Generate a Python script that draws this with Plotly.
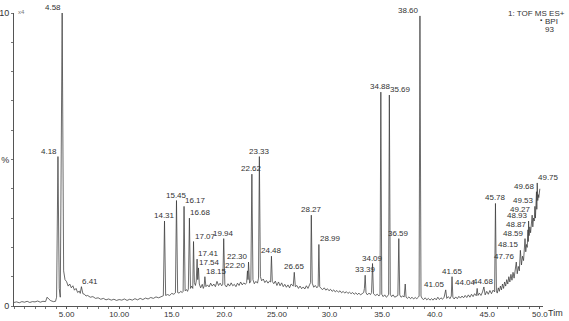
import plotly.graph_objects as go

# Chromatogram trace (retention time in min, relative intensity in %)
trace_time = [
    0.0, 0.25, 0.5, 0.75, 1.0, 1.25, 1.5, 1.75, 2.0, 2.25, 2.5, 2.75, 3.0, 3.15, 3.3, 3.5, 3.75, 3.95,
    4.05, 4.18, 4.3, 4.4, 4.58, 4.72, 4.85,
    5.0, 5.15, 5.3, 5.45, 5.6, 5.75, 5.9, 6.05, 6.2, 6.3, 6.41, 6.55, 6.7, 6.85, 7.0, 7.25, 7.5, 7.75,
    8.0, 8.25, 8.5, 8.75, 9.0, 9.25, 9.5, 9.75, 10.0, 10.25, 10.5, 10.75, 11.0, 11.25, 11.5, 11.75,
    12.0, 12.25, 12.5, 12.75, 13.0, 13.25, 13.5, 13.75, 14.0, 14.2,
    14.31, 14.42, 14.6, 14.8, 15.0, 15.2, 15.35, 15.45, 15.56, 15.7, 15.85, 16.0, 16.08, 16.17, 16.27,
    16.4, 16.5, 16.58, 16.68, 16.78, 16.9, 17.0, 17.07, 17.15, 17.25, 17.33, 17.41, 17.47, 17.54, 17.62,
    17.75, 17.9, 18.0, 18.08, 18.15, 18.25, 18.4, 18.55, 18.7, 18.85, 19.0, 19.15, 19.3, 19.45, 19.6,
    19.75, 19.85, 19.94, 20.05, 20.2, 20.35, 20.5, 20.65, 20.8, 20.95, 21.1, 21.25, 21.4, 21.55, 21.7,
    21.85, 22.0, 22.12, 22.2, 22.25, 22.3, 22.4, 22.52, 22.62, 22.72, 22.85, 23.0, 23.15, 23.25, 23.33,
    23.43, 23.55, 23.7, 23.85, 24.0, 24.15, 24.3, 24.4, 24.48, 24.56, 24.7, 24.85, 25.0, 25.15, 25.3,
    25.45, 25.6, 25.75, 25.9, 26.05, 26.2, 26.35, 26.55, 26.65, 26.75, 26.9, 27.05, 27.2, 27.35, 27.5,
    27.65, 27.8, 27.95, 28.1, 28.2, 28.27, 28.36, 28.5, 28.65, 28.8, 28.92, 28.99, 29.07, 29.2, 29.35,
    29.5, 29.65, 29.8, 29.95, 30.1, 30.25, 30.4, 30.55, 30.7, 30.85, 31.0, 31.15, 31.3, 31.45, 31.6,
    31.75, 31.9, 32.05, 32.2, 32.35, 32.5, 32.65, 32.8, 32.95, 33.1, 33.25, 33.32, 33.39, 33.47, 33.6,
    33.75, 33.9, 34.0, 34.09, 34.18, 34.35, 34.55, 34.7, 34.8, 34.88, 34.97, 35.1, 35.25, 35.4, 35.55,
    35.62, 35.69, 35.78, 35.9, 36.05, 36.2, 36.35, 36.5, 36.59, 36.68, 36.8, 36.95, 37.1, 37.2, 37.28,
    37.4, 37.55, 37.7, 37.85, 38.0, 38.15, 38.3, 38.45, 38.52, 38.6, 38.7, 38.8, 38.95, 39.1, 39.25,
    39.4, 39.55, 39.7, 39.85, 40.0, 40.15, 40.3, 40.45, 40.6, 40.75, 40.9, 41.05, 41.15, 41.3, 41.45,
    41.58, 41.65, 41.73, 41.85, 42.0, 42.15, 42.3, 42.45, 42.6, 42.75, 42.9, 43.05, 43.2, 43.35, 43.5,
    43.65, 43.8, 43.95, 44.04, 44.12, 44.25, 44.4, 44.55, 44.68, 44.8, 44.95, 45.1, 45.25, 45.4, 45.55,
    45.7, 45.78, 45.87, 45.95, 46.05, 46.15, 46.25, 46.35, 46.45, 46.55, 46.65, 46.75, 46.85, 46.95,
    47.05, 47.15, 47.25, 47.35, 47.45, 47.55, 47.65, 47.76, 47.85, 47.95, 48.05, 48.15, 48.25, 48.35,
    48.45, 48.52, 48.59, 48.66, 48.73, 48.8, 48.87, 48.9, 48.93, 48.98, 49.05, 49.12, 49.2, 49.27,
    49.33, 49.4, 49.47, 49.53, 49.58, 49.63, 49.68, 49.71, 49.75, 49.8, 49.85, 49.9, 49.95, 50.0,
]
trace_intensity = [
    1.2, 1.4, 1.1, 1.5, 1.3, 1.6, 1.2, 1.5, 1.4, 1.7, 1.3, 1.6, 1.5, 3.0, 2.4, 1.8, 1.5, 1.6,
    3.0, 51, 6.0, 3.0, 100, 12, 9.0,
    8.3, 6.8, 7.5, 6.2, 6.9, 5.4, 6.0, 4.6, 5.1, 4.3, 6.6, 4.2, 4.0, 3.4, 3.6, 3.0, 3.2, 2.6,
    2.8, 2.3, 2.6, 2.1, 2.4, 2.0, 2.3, 1.9, 2.2, 2.0, 2.4, 1.9, 2.3, 2.0, 2.5, 2.1,
    2.6, 2.2, 2.7, 2.4, 2.9, 2.6, 3.1, 2.8, 3.3, 3.5,
    29, 3.6, 3.9, 3.6, 4.3, 4.0, 4.5, 36, 4.6, 4.4, 5.0, 4.6, 5.0, 34, 5.2,
    5.6, 5.0, 5.8, 30, 6.0, 6.8, 6.0, 22, 8.0, 7.0, 8.5, 16, 9.0, 13, 7.5,
    6.2, 7.4, 6.0, 6.8, 10, 6.6, 7.2, 6.5, 7.8, 6.8, 7.5, 6.6, 8.4, 7.0, 7.8,
    6.9, 7.4, 23, 7.2, 6.5, 7.6, 6.8, 7.9, 6.9, 7.4, 6.6, 7.8, 7.0, 8.2, 7.2,
    7.9, 7.4, 8.0, 12, 9.0, 15, 7.8, 8.5, 45, 9.0, 7.6, 8.4, 7.8, 9.5, 51,
    10, 8.6, 9.2, 8.0, 8.7, 7.8, 8.5, 8.2, 17, 8.4, 7.6, 8.5, 7.0, 8.2, 6.9,
    7.9, 6.6, 7.4, 6.4, 7.2, 6.2, 7.5, 6.8, 11.5, 6.6, 7.0, 6.0, 6.8, 5.9, 6.5,
    5.8, 6.9, 6.0, 7.2, 8.0, 31, 7.8, 6.4, 7.0, 6.2, 6.8, 21, 6.6, 6.0, 5.6,
    6.2, 5.4, 5.9, 5.2, 5.7, 5.0, 5.5, 4.8, 5.3, 4.7, 5.2, 4.5, 5.0, 4.4, 4.9,
    4.3, 4.7, 4.2, 4.6, 4.0, 4.5, 3.9, 4.4, 3.8, 4.2, 4.6, 6.0, 10.5, 4.5, 3.8,
    4.4, 3.9, 4.6, 14.5, 4.2, 3.6, 4.0, 3.4, 4.0, 73, 4.0, 3.2, 3.8, 3.0, 3.5,
    4.0, 72, 4.0, 3.2, 3.8, 3.0, 3.4, 3.6, 23, 3.8, 3.0, 3.4, 3.1, 7.5, 3.0,
    2.6, 3.1, 2.5, 3.0, 2.4, 2.9, 2.5, 3.0, 3.4, 99, 3.4, 2.6, 2.2, 2.8, 2.1,
    2.6, 2.0, 2.5, 2.0, 2.7, 2.1, 3.0, 2.2, 2.8, 2.3, 3.0, 5.5, 2.6, 3.2, 2.5,
    3.4, 10, 3.0, 2.4, 3.1, 2.5, 3.3, 2.7, 3.4, 2.8, 3.6, 2.9, 3.8, 3.0, 4.0,
    3.2, 4.2, 3.5, 6.0, 3.6, 4.4, 3.6, 4.8, 6.5, 3.8, 5.0, 4.0, 5.3, 4.2, 5.4,
    4.8, 35, 5.2, 4.4, 6.2, 5.0, 6.8, 5.5, 7.5, 6.0, 8.2, 6.8, 9.0, 7.5,
    10, 8.2, 10.8, 8.8, 11.5, 9.5, 12.2, 15, 11, 13.5, 12, 19, 14, 17,
    15.5, 18, 23, 18.5, 21, 20, 26, 22, 29, 24, 27, 25, 28, 31,
    27, 30, 29, 34, 30, 33, 39, 33, 42, 36, 38, 37, 39, 40,
]

# Labelled peaks: retention time label, apex position
peak_labels = ["4.18", "4.58", "6.41", "14.31", "15.45", "16.17", "16.68", "17.07", "17.41", "17.54",
               "18.15", "19.94", "22.20", "22.30", "22.62", "23.33", "24.48", "26.65", "28.27", "28.99",
               "33.39", "34.09", "34.88", "35.69", "36.59", "38.60", "41.05", "41.65", "44.04", "44.68",
               "45.78", "47.76", "48.15", "48.59", "48.87", "48.93", "49.27", "49.53", "49.68", "49.75"]
peak_time = [4.18, 4.58, 6.41, 14.31, 15.45, 16.17, 16.68, 17.07, 17.41, 17.54,
             18.15, 19.94, 22.20, 22.30, 22.62, 23.33, 24.48, 26.65, 28.27, 28.99,
             33.39, 34.09, 34.88, 35.69, 36.59, 38.60, 41.05, 41.65, 44.04, 44.68,
             45.78, 47.76, 48.15, 48.59, 48.87, 48.93, 49.27, 49.53, 49.68, 49.75]
peak_height = [51, 100, 6.6, 29, 36, 34, 30, 22, 16, 13,
               10, 23, 12, 15, 45, 51, 17, 11.5, 31, 21,
               10.5, 14.5, 73, 72, 23, 99, 5.5, 10, 6.0, 6.5,
               35, 15, 19, 23, 26, 29, 31, 34, 39, 42]
# label alignment (style only)
peak_anchor = ["r", "r", "l", "c", "c", "l", "l", "l", "l", "l",
               "l", "c", "r", "r", "c", "c", "c", "c", "c", "l",
               "c", "c", "c", "l", "c", "r", "r", "c", "r", "c",
               "c", "r", "r", "r", "r", "r", "r", "r", "r", "l"]

x_tick_vals = [5, 10, 15, 20, 25, 30, 35, 40, 45, 50]
x_tick_text = ["5.00", "10.00", "15.0", "20.0", "25.00", "30.0", "35.0", "40.0", "45.0", "50.0"]
y_tick_vals = [0, 10, 20, 30, 40, 50, 60, 70, 80, 90, 100]
y_tick_text = ["0", "", "", "", "", "%", "", "", "", "", "10"]

FONT = "Liberation Sans, Arial, sans-serif"
INK = "#333333"

fig = go.Figure()
fig.add_trace(go.Scatter(x=trace_time, y=trace_intensity, mode="lines",
                         line=dict(color="#3a3a3a", width=0.75), hoverinfo="skip",
                         showlegend=False))

anchor_map = {"l": ("left", -1), "r": ("right", 1), "c": ("center", 0)}
for lab, t, h, a in zip(peak_labels, peak_time, peak_height, peak_anchor):
    xa, xs = anchor_map[a]
    fig.add_annotation(x=t, y=h, text=lab, showarrow=False, xanchor=xa, yanchor="bottom",
                       xshift=xs, yshift=-1, font=dict(family=FONT, size=8, color=INK))

# header text
fig.add_annotation(xref="paper", yref="paper", x=1.045, y=1.0, text="1: TOF MS ES+",
                   showarrow=False, xanchor="right", yanchor="middle",
                   font=dict(family=FONT, size=8, color=INK))
fig.add_annotation(xref="paper", yref="paper", x=1.0, y=0.972, text="BPI",
                   showarrow=False, xanchor="left", yanchor="middle",
                   font=dict(family=FONT, size=8, color=INK))
fig.add_annotation(xref="paper", yref="paper", x=1.0, y=0.945, text="93",
                   showarrow=False, xanchor="left", yanchor="middle",
                   font=dict(family=FONT, size=8, color=INK))
fig.add_annotation(xref="paper", yref="paper", x=0.996, y=0.975, text="▪",
                   showarrow=False, xanchor="center", yanchor="middle",
                   font=dict(family=FONT, size=6, color="#111"))
fig.add_annotation(xref="paper", yref="paper", x=0.003, y=1.005, text="x4",
                   showarrow=False, xanchor="left", yanchor="middle",
                   font=dict(family=FONT, size=6, color="#777"))
fig.add_annotation(xref="paper", yref="paper", x=1.006, y=0.0, text="Tim",
                   showarrow=False, xanchor="left", yanchor="top",
                   font=dict(family=FONT, size=9, color=INK))

fig.update_layout(
    width=569, height=321,
    margin=dict(l=14, r=26, t=13, b=15),
    paper_bgcolor="white", plot_bgcolor="white",
    font=dict(family=FONT, size=8, color=INK),
    xaxis=dict(range=[0, 50.3], showgrid=False, zeroline=False, showline=True, automargin=False,
               linecolor="#555", linewidth=1, ticks="outside", ticklen=2, tickcolor="#555",
               tickvals=x_tick_vals, ticktext=x_tick_text, tickfont=dict(size=8),
               ticklabelstandoff=-2,
               minor=dict(dtick=1, ticks="outside", ticklen=2, tickcolor="#777")),
    yaxis=dict(range=[0, 100], showgrid=False, zeroline=False, showline=True, automargin=False,
               linecolor="#555", linewidth=1, ticks="outside", ticklen=2, tickcolor="#777",
               tickvals=y_tick_vals, ticktext=y_tick_text, tickfont=dict(size=9)),
)

fig.write_html("out.html", config={"displayModeBar": False},
               post_script="document.body.style.margin='0px';document.body.style.overflow='hidden';")
